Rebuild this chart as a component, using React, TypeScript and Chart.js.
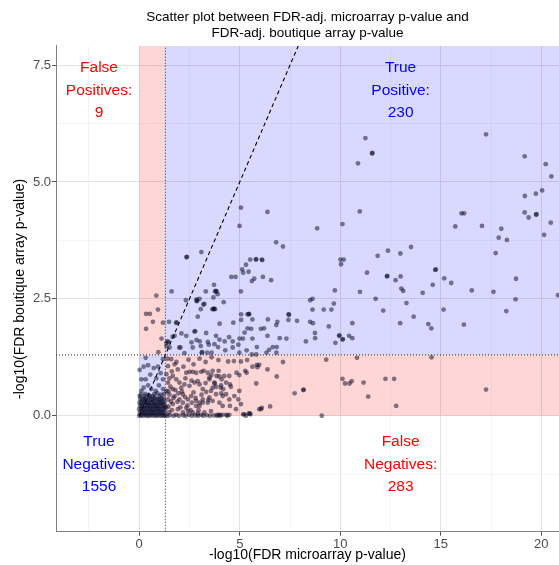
import React, { useEffect, useRef } from 'react';
import { Chart, registerables } from 'chart.js';

Chart.register(...registerables);

const FONT = "'Liberation Sans', Arial, Helvetica, sans-serif";

// significance threshold: -log10(0.05)
const threshold = 1.301;

const xRange = [-4.14, 20.88];
const yRange = [-2.48, 7.91];

const xGridValues = [-2.5, 0, 2.5, 5, 7.5, 10, 12.5, 15, 17.5, 20];
const xTickLabels = [0, 5, 10, 15, 20];
const yGridValues = [-1.25, 0, 1.25, 2.5, 3.75, 5, 6.25, 7.5];
const yTickLabels = [0, 2.5, 5, 7.5];

const titleLines = ['Scatter plot between FDR-adj. microarray p-value and', 'FDR-adj. boutique array p-value'];
const xTitle = '-log10(FDR microarray p-value)';
const yTitle = '-log10(FDR boutique array p-value)';

const quadrantLabels = [
  ['False', 'Positives:', '9'],
  ['True', 'Positive:', '230'],
  ['True', 'Negatives:', '1556'],
  ['False', 'Negatives:', '283'],
];
const quadrantLabelX = [-2, 13, -2, 13];
const quadrantLabelY = [7, 7, -1, -1];
const quadrantLabelColor = ['#ff0000', '#0000ff', '#0000ff', '#ff0000'];

// identity reference line y = x
const identityLine = [[0, 0], [10, 10]];

// True positives (both significant)
const truePositives = [
  [17.25, 6.02], [19.17, 5.55], [20.22, 5.38], [20.5, 5.12], [20.04, 4.82], [19.73, 4.75], [19.18, 4.7],
  [19.17, 4.35], [19.37, 4.24], [19.74, 4.3], [19.76, 4.31], [20.47, 4.13], [20.14, 3.87], [16.03, 4.33],
  [16.16, 4.33], [15.72, 4.05], [17.05, 4.06], [18.01, 4.0], [17.88, 3.81], [18.29, 3.76], [17.73, 3.48],
  [14.72, 3.12], [14.76, 3.13], [14.6, 2.8], [15.17, 2.94], [15.52, 2.84], [16.54, 2.68], [17.62, 2.65],
  [18.74, 2.93], [18.72, 2.49], [18.26, 2.24], [15.14, 2.27], [16.15, 1.95], [14.38, 1.96], [14.53, 1.87],
  [20.83, 2.58],
  [11.25, 5.94], [11.58, 5.61], [11.6, 5.62], [10.88, 5.4], [10.97, 4.37], [8.85, 4.01], [10.11, 4.1],
  [13.52, 3.61], [12.37, 3.53], [12.99, 3.47], [11.86, 3.42], [10.01, 3.34], [10.17, 3.34], [10.04, 3.24],
  [11.33, 3.06], [12.32, 2.98], [12.34, 2.99], [13.0, 2.98], [12.75, 2.9], [9.73, 2.68], [10.98, 2.65],
  [13.04, 2.72], [13.13, 2.67], [14.1, 2.63], [11.76, 2.5], [8.62, 2.5],
  [8.5, 2.47], [8.62, 2.27], [9.18, 2.27], [9.56, 2.27], [9.68, 2.4], [12.14, 2.25], [13.29, 2.41],
  [13.65, 2.12], [12.98, 1.98], [8.5, 2.01], [8.64, 1.98], [9.43, 1.91], [10.6, 1.98], [8.74, 1.77],
  [8.75, 1.66], [8.29, 1.59], [9.76, 1.56], [9.94, 1.71], [9.96, 1.72], [10.11, 1.63], [10.13, 1.64],
  [10.44, 1.71], [10.6, 1.66],
  [5.06, 4.45], [6.38, 4.36], [4.99, 4.06], [6.81, 3.71], [7.15, 3.62], [3.09, 3.5], [2.35, 3.39],
  [2.37, 3.4], [5.52, 3.34], [5.8, 3.34], [5.82, 3.35], [6.1, 3.34], [6.12, 3.33], [5.31, 3.23],
  [5.12, 3.13], [5.17, 3.06], [5.44, 3.08], [4.58, 2.97], [4.79, 2.97], [5.72, 2.93], [5.6, 2.88],
  [6.15, 2.97], [6.56, 2.9], [1.61, 2.66], [3.31, 2.66], [3.72, 2.8], [3.77, 2.66], [3.85, 2.66],
  [3.81, 2.67], [5.06, 2.66], [3.69, 2.53], [3.9, 2.6], [2.32, 2.47], [2.86, 2.45], [2.85, 2.49],
  [2.88, 2.46], [3.0, 2.5], [3.19, 2.38], [3.24, 2.39], [3.06, 2.28], [4.2, 2.43], [3.64, 2.28],
  [3.7, 2.28], [3.77, 2.28], [3.72, 2.29], [2.91, 2.12], [4.0, 1.97], [4.68, 1.99], [5.07, 2.17],
  [5.07, 2.05], [5.39, 2.17], [5.47, 2.17], [5.45, 2.18], [5.63, 2.06], [6.4, 2.06], [6.87, 2.01],
  [6.82, 1.94], [7.43, 2.17], [7.45, 2.16], [7.42, 2.05], [7.85, 2.03], [5.39, 1.87], [5.57, 1.86],
  [6.05, 1.86], [6.21, 1.87], [6.38, 1.71], [4.99, 1.65], [5.16, 1.65], [5.24, 1.78], [5.63, 1.65],
  [6.99, 1.66], [7.32, 1.65], [6.64, 1.47], [6.46, 1.41], [6.33, 1.35], [6.82, 1.35], [5.85, 1.47],
  [5.34, 1.4], [4.93, 1.52], [4.47, 1.68], [4.65, 1.59], [4.65, 1.46], [4.25, 1.59], [3.82, 1.71],
  [3.99, 1.63], [3.92, 1.47], [4.28, 1.4], [3.33, 1.77], [3.41, 1.58], [3.01, 1.59], [3.06, 1.49],
  [2.85, 1.62], [2.75, 1.8], [3.11, 1.35], [3.13, 1.36], [2.6, 1.57], [2.66, 1.46], [2.34, 1.71],
  [2.1, 1.76], [2.05, 1.46], [1.99, 1.46], [2.25, 1.34], [1.76, 1.71], [1.66, 1.69], [1.48, 2.01],
  [1.86, 1.99], [1.4, 1.59], [1.51, 1.46], [1.35, 1.49], [3.6, 1.35], [3.46, 1.52], [3.38, 1.35],
  [4.98, 1.35], [5.82, 1.31], [5.6, 1.31], [6.84, 1.47], [3.74, 1.53], [2.78, 1.81], [1.84, 1.99],
  [1.46, 1.58], [1.35, 1.56],
];

// False positives (only boutique array significant)
const falsePositives = [
  [0.85, 2.57], [0.93, 2.27], [0.34, 2.18], [0.53, 2.18], [0.68, 2.01], [1.18, 1.99], [0.34, 1.86],
  [1.11, 1.65], [0.95, 1.36],
];

// False negatives (only microarray significant)
const falseNegatives = [
  [9.3, 1.2], [10.83, 1.24], [14.54, 1.25], [8.16, 0.55], [8.18, 0.56], [10.11, 0.79], [10.24, 0.69],
  [10.46, 0.69], [10.57, 0.74], [11.16, 0.71], [11.39, 0.41], [12.25, 0.79], [12.68, 0.79], [12.78, 0.21],
  [17.25, 0.56], [9.08, 0.0],
  [6.84, 0.84], [5.82, 0.69], [7.73, 0.48], [6.1, 0.17], [6.51, 0.2], [5.22, 0.03], [5.53, 0.03],
  [4.48, 0.02], [4.32, 0.02], [3.99, 0.02], [5.37, 1.19], [5.06, 1.16], [4.71, 1.17], [4.42, 1.16],
  [3.94, 1.19], [5.88, 1.04], [5.63, 1.05], [3.95, 0.96], [4.23, 0.85], [4.48, 0.85], [4.32, 0.71],
  [3.59, 0.87], [3.49, 0.78], [3.75, 0.69], [4.05, 0.6], [4.08, 0.48], [3.82, 0.46], [3.57, 0.53],
  [3.44, 0.34], [3.16, 0.28], [3.0, 0.21], [2.83, 0.32],
  [5.97, 1.09], [6.38, 0.99], [7.15, 1.15], [4.98, 0.53], [5.97, 0.14], [6.05, 0.14], [5.5, 0.05],
  [4.13, 0.02], [3.9, 0.02], [4.84, 0.92], [4.98, 0.87], [5.34, 0.92], [5.27, 0.96], [4.51, 0.67],
  [4.56, 0.62], [4.73, 0.42], [4.93, 0.35], [4.1, 0.78], [3.99, 0.84], [3.85, 0.85], [4.07, 0.65],
  [4.18, 0.57], [3.74, 0.71], [3.82, 0.62], [3.65, 0.6], [3.49, 0.82], [3.65, 0.96], [3.41, 0.92],
  [3.21, 0.96], [3.08, 0.94], [2.83, 0.92], [2.66, 0.94], [2.5, 0.94], [2.34, 0.92], [2.91, 0.74],
  [3.0, 0.67], [2.75, 0.71], [3.16, 0.57], [3.33, 0.51], [3.49, 0.39], [3.65, 0.32], [3.41, 0.28],
  [3.99, 0.28], [4.15, 0.21], [3.16, 0.35], [3.0, 0.28], [2.83, 0.21], [2.58, 0.42], [2.42, 0.35],
  [2.17, 0.46], [2.0, 0.71], [1.84, 0.78], [1.67, 0.85], [1.92, 0.99], [1.76, 1.1], [1.59, 1.21],
  [1.43, 1.06], [1.35, 0.89], [1.43, 0.71], [1.35, 0.53], [1.43, 0.35], [1.35, 0.17], [1.48, 0.07],
  [1.67, 0.57], [1.76, 0.42], [1.67, 0.25], [1.92, 0.14], [2.17, 0.07], [2.42, 0.1], [2.66, 0.07],
  [2.91, 0.05], [3.24, 0.07], [3.57, 0.1], [2.09, 0.6], [2.25, 0.67], [2.5, 0.64], [2.17, 0.28],
  [2.34, 0.17], [2.0, 0.35], [4.32, 0.46], [4.48, 0.35], [4.15, 0.42], [4.51, 0.21], [5.06, 0.25],
  [4.81, 0.14], [5.85, 1.09],
  [4.03, 0.0], [4.38, 0.0], [5.17, 0.03], [5.31, 0.0], [5.45, 0.05],
  [1.38, 0.0], [1.52, 0.01], [1.71, 0.0], [1.83, 0.02], [1.97, 0.0], [2.18, 0.01], [2.31, 0.0],
  [2.47, 0.02], [2.62, 0.0], [2.79, 0.01], [2.93, 0.0], [3.08, 0.02], [3.19, 0.0], [3.36, 0.01],
  [3.52, 0.0], [3.71, 0.01], [3.86, 0.0],
  [1.5, 0.45], [1.58, 0.3], [1.62, 0.12], [1.55, 0.62], [1.8, 0.55], [1.9, 0.3], [1.95, 0.48],
  [2.05, 0.18], [2.12, 0.52], [2.28, 0.4], [2.4, 0.22], [2.55, 0.12], [2.62, 0.28], [2.7, 0.5],
  [2.8, 0.38], [2.95, 0.12], [3.1, 0.45], [1.45, 0.2], [1.7, 0.38], [1.5, 0.8], [1.62, 0.95],
  [1.85, 1.15], [2.2, 1.05], [2.45, 1.2], [2.7, 1.1], [3.0, 1.22], [3.3, 1.15], [3.6, 1.25],
  [2.3, 0.8], [2.6, 0.75], [3.3, 0.7], [1.4, 1.22], [1.45, 0.52],
];

// True negatives (neither significant)
const trueNegatives = [
  [0.44, 1.08], [0.22, 1.05], [0.02, 0.98], [0.11, 0.78], [0.32, 0.78], [0.55, 0.88], [0.72, 1.02],
  [0.93, 1.05], [1.06, 0.91], [0.85, 0.8], [0.44, 0.65], [0.22, 0.6], [0.6, 0.57], [0.98, 0.65],
  [1.18, 0.78], [0.82, 0.53], [0.11, 0.53], [0.02, 0.42], [0.27, 0.42], [0.52, 0.42], [1.01, 0.42],
  [1.18, 0.57], [0.68, 0.42], [1.18, 1.21], [0.32, 1.24],
  [0.0, 0.0], [0.08, 0.01], [0.17, 0.0], [0.26, 0.02], [0.35, 0.0], [0.44, 0.01], [0.52, 0.0],
  [0.61, 0.02], [0.7, 0.0], [0.79, 0.01], [0.88, 0.0], [0.96, 0.02], [1.05, 0.0], [1.14, 0.01],
  [1.23, 0.0], [1.3, 0.01],
  [0.03, 0.07], [0.13, 0.08], [0.21, 0.06], [0.31, 0.07], [0.39, 0.09], [0.48, 0.06], [0.57, 0.08],
  [0.66, 0.07], [0.74, 0.06], [0.83, 0.09], [0.92, 0.07], [1.01, 0.08], [1.1, 0.06], [1.19, 0.07],
  [1.27, 0.09],
  [0.0, 0.14], [0.09, 0.15], [0.18, 0.13], [0.27, 0.14], [0.36, 0.16], [0.45, 0.13], [0.53, 0.15],
  [0.63, 0.14], [0.71, 0.13], [0.8, 0.16], [0.89, 0.14], [0.97, 0.15], [1.06, 0.13], [1.15, 0.14],
  [1.24, 0.16],
  [0.04, 0.21], [0.12, 0.22], [0.22, 0.2], [0.3, 0.23], [0.4, 0.21], [0.49, 0.22], [0.58, 0.2],
  [0.67, 0.21], [0.75, 0.23], [0.84, 0.21], [0.93, 0.2], [1.02, 0.22], [1.11, 0.21], [1.2, 0.23],
  [1.29, 0.2],
  [0.01, 0.28], [0.1, 0.29], [0.19, 0.27], [0.28, 0.3], [0.37, 0.28], [0.46, 0.27], [0.55, 0.29],
  [0.64, 0.28], [0.72, 0.3], [0.81, 0.27], [0.9, 0.28], [0.99, 0.29], [1.08, 0.27], [1.17, 0.3],
  [1.26, 0.28],
  [0.05, 0.36], [0.15, 0.35], [0.24, 0.37], [0.33, 0.36], [0.43, 0.34], [0.5, 0.37], [0.62, 0.35],
  [0.69, 0.36], [0.78, 0.38], [0.87, 0.35], [0.95, 0.36], [1.04, 0.34], [1.13, 0.37], [1.22, 0.36],
  [0.08, 0.45], [0.3, 0.47], [0.47, 0.44], [0.75, 0.46], [0.9, 0.48], [1.1, 0.45], [1.25, 0.47],
];

const pointColor = 'rgba(5,5,35,0.5)';
const pinkFill = 'rgba(255,0,0,0.16)';
const blueFill = 'rgba(0,0,255,0.15)';

const toXY = (pts: number[][]) => pts.map(([x, y]) => ({ x, y }));

const regionPlugin = {
  id: 'quadrantRegions',
  beforeDatasetsDraw(chart: any) {
    const { ctx, chartArea: a, scales } = chart;
    const x = scales.x, y = scales.y;
    const x0 = x.getPixelForValue(0);
    const xt = x.getPixelForValue(threshold);
    const y0 = y.getPixelForValue(0);
    const yt = y.getPixelForValue(threshold);
    ctx.save();
    ctx.beginPath();
    ctx.rect(a.left, a.top, a.right - a.left, a.bottom - a.top);
    ctx.clip();
    ctx.fillStyle = pinkFill;
    ctx.fillRect(x0, a.top, xt - x0, yt - a.top);
    ctx.fillRect(xt, yt, a.right - xt, y0 - yt);
    ctx.fillStyle = blueFill;
    ctx.fillRect(xt, a.top, a.right - xt, yt - a.top);
    ctx.fillRect(x0, yt, xt - x0, y0 - yt);
    ctx.restore();
  },
};

const labelPlugin = {
  id: 'quadrantLabels',
  afterDatasetsDraw(chart: any) {
    const { ctx, scales } = chart;
    ctx.save();
    ctx.font = `15.5px ${FONT}`;
    ctx.textAlign = 'center';
    ctx.textBaseline = 'middle';
    const lh = 22.5;
    quadrantLabels.forEach((lines, i) => {
      const px = scales.x.getPixelForValue(quadrantLabelX[i]);
      const py = scales.y.getPixelForValue(quadrantLabelY[i]) + 2;
      ctx.fillStyle = quadrantLabelColor[i];
      lines.forEach((t, j) => {
        ctx.fillText(t, px, py + (j - 1) * lh);
      });
    });
    ctx.restore();
  },
};

export default function App() {
  const ref = useRef<HTMLCanvasElement | null>(null);

  useEffect(() => {
    document.body.style.margin = '0';
    if (!ref.current) return;
    const pointStyle = {
      pointRadius: 2.4,
      pointHoverRadius: 2.4,
      pointBackgroundColor: pointColor,
      pointBorderWidth: 0,
      backgroundColor: pointColor,
      borderWidth: 0,
    };
    const chart = new Chart(ref.current, {
      type: 'scatter',
      data: {
        datasets: [
          {
            label: 'identity',
            data: toXY(identityLine),
            showLine: true,
            borderColor: '#000',
            borderWidth: 1.1,
            borderDash: [4, 3],
            pointRadius: 0,
          },
          {
            label: 'xThreshold',
            data: [{ x: threshold, y: yRange[0] }, { x: threshold, y: yRange[1] }],
            showLine: true,
            borderColor: '#222',
            borderWidth: 1,
            borderDash: [1, 2],
            pointRadius: 0,
          },
          {
            label: 'yThreshold',
            data: [{ x: xRange[0], y: threshold }, { x: xRange[1], y: threshold }],
            showLine: true,
            borderColor: '#222',
            borderWidth: 1,
            borderDash: [1, 2],
            pointRadius: 0,
          },
          { label: 'TP', data: toXY(truePositives), ...pointStyle },
          { label: 'FP', data: toXY(falsePositives), ...pointStyle },
          { label: 'FN', data: toXY(falseNegatives), ...pointStyle },
          { label: 'TN', data: toXY(trueNegatives), ...pointStyle },
        ] as any,
      },
      options: {
        animation: false,
        responsive: true,
        maintainAspectRatio: false,
        layout: { padding: 0, autoPadding: false },
        plugins: {
          legend: { display: false },
          tooltip: { enabled: false },
          title: {
            display: true,
            text: titleLines,
            color: '#000',
            fullSize: false,
            font: { size: 13.5, family: FONT, weight: 'normal', lineHeight: 1.22 },
            padding: { top: 9, bottom: 4 },
          },
        },
        scales: {
          x: {
            type: 'linear',
            min: xRange[0],
            max: xRange[1],
            afterBuildTicks: (s: any) => {
              s.ticks = xGridValues.map((v) => ({ value: v }));
            },
            afterFit: (s: any) => {
              s.height = 33.3;
              s.paddingLeft = 0;
              s.paddingRight = 0;
            },
            ticks: {
              autoSkip: false,
              maxRotation: 0,
              padding: 1,
              color: '#4d4d4d',
              font: { size: 13, family: FONT },
              callback: (v: any) => (xTickLabels.includes(Number(v)) ? String(v) : ''),
            },
            grid: {
              color: (c: any) => (xTickLabels.includes(c.tick?.value) ? '#e3e3e3' : '#efefef'),
              lineWidth: (c: any) => (xTickLabels.includes(c.tick?.value) ? 1 : 0.7),
              tickColor: (c: any) => (xTickLabels.includes(c.tick?.value) ? '#555' : 'rgba(0,0,0,0)'),
              tickLength: 4,
              drawTicks: true,
            },
            border: { display: true, color: '#808080', width: 1 },
            title: {
              display: true,
              text: xTitle,
              color: '#000',
              font: { size: 14, family: FONT },
              padding: 1,
            },
          },
          y: {
            type: 'linear',
            min: yRange[0],
            max: yRange[1],
            afterBuildTicks: (s: any) => {
              s.ticks = yGridValues.map((v) => ({ value: v }));
            },
            afterFit: (s: any) => {
              s.width = 56;
              s.paddingTop = 0;
              s.paddingBottom = 0;
            },
            ticks: {
              autoSkip: false,
              padding: 1,
              color: '#4d4d4d',
              font: { size: 13, family: FONT },
              callback: (v: any) => (yTickLabels.includes(Number(v)) ? Number(v).toFixed(1) : ''),
            },
            grid: {
              color: (c: any) => (yTickLabels.includes(c.tick?.value) ? '#e3e3e3' : '#efefef'),
              lineWidth: (c: any) => (yTickLabels.includes(c.tick?.value) ? 1 : 0.7),
              tickColor: (c: any) => (yTickLabels.includes(c.tick?.value) ? '#555' : 'rgba(0,0,0,0)'),
              tickLength: 4,
              drawTicks: true,
            },
            border: { display: true, color: '#808080', width: 1 },
            title: {
              display: true,
              text: yTitle,
              color: '#000',
              font: { size: 14, family: FONT },
              padding: 12,
            },
          },
        },
      } as any,
      plugins: [regionPlugin, labelPlugin],
    });
    return () => chart.destroy();
  }, []);

  return (
    <div style={{ position: 'absolute', left: 0, top: 0, width: 559, height: 565, background: '#fff' }}>
      <canvas ref={ref} style={{ display: 'block' }} />
    </div>
  );
}
